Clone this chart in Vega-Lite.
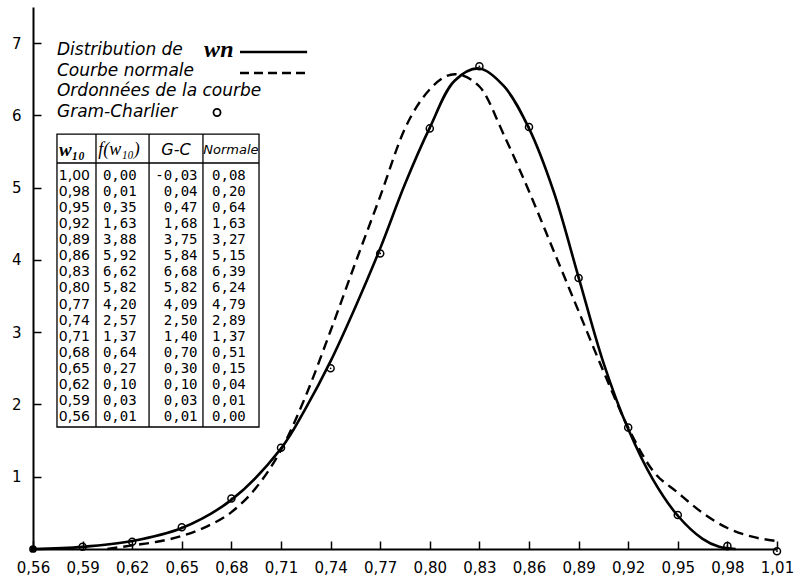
{
  "$schema": "https://vega.github.io/schema/vega-lite/v6.json",
  "width": 744,
  "height": 542,
  "autosize": "none",
  "padding": {"left": 33, "top": 7, "right": 23, "bottom": 30},
  "background": "white",
  "config": {
    "view": {"stroke": null},
    "axis": {"grid": false, "labelFont": "DejaVu Sans", "labelFontSize": 15, "labelColor": "black", "domainColor": "black", "tickColor": "black"}
  },
  "data": {"values": [{}]},
  "datasets": {
    "dist": [
      {"w": 0.56, "v": 0.0}, {"w": 0.59, "v": 0.03}, {"w": 0.62, "v": 0.11}, {"w": 0.65, "v": 0.29},
      {"w": 0.68, "v": 0.68}, {"w": 0.71, "v": 1.39}, {"w": 0.725, "v": 1.95}, {"w": 0.74, "v": 2.6},
      {"w": 0.755, "v": 3.35}, {"w": 0.77, "v": 4.16}, {"w": 0.785, "v": 5.05}, {"w": 0.80, "v": 5.83},
      {"w": 0.815, "v": 6.48}, {"w": 0.83, "v": 6.65}, {"w": 0.845, "v": 6.40}, {"w": 0.86, "v": 5.82},
      {"w": 0.875, "v": 4.94}, {"w": 0.89, "v": 3.76}, {"w": 0.905, "v": 2.58}, {"w": 0.92, "v": 1.66},
      {"w": 0.935, "v": 0.96}, {"w": 0.95, "v": 0.46}, {"w": 0.965, "v": 0.14}, {"w": 0.975, "v": 0.03},
      {"w": 0.985, "v": 0.0}
    ],
    "normal": [
      {"w": 0.605, "v": 0.0}, {"w": 0.62, "v": 0.05}, {"w": 0.635, "v": 0.1}, {"w": 0.65, "v": 0.18},
      {"w": 0.665, "v": 0.31}, {"w": 0.68, "v": 0.51}, {"w": 0.695, "v": 0.85}, {"w": 0.71, "v": 1.37},
      {"w": 0.725, "v": 2.12}, {"w": 0.74, "v": 3.02}, {"w": 0.755, "v": 3.96}, {"w": 0.77, "v": 4.88},
      {"w": 0.785, "v": 5.82}, {"w": 0.80, "v": 6.36}, {"w": 0.815, "v": 6.57}, {"w": 0.83, "v": 6.40},
      {"w": 0.845, "v": 5.72}, {"w": 0.86, "v": 4.95}, {"w": 0.875, "v": 4.12}, {"w": 0.89, "v": 3.29},
      {"w": 0.905, "v": 2.46}, {"w": 0.92, "v": 1.68}, {"w": 0.935, "v": 1.08}, {"w": 0.95, "v": 0.78},
      {"w": 0.965, "v": 0.50}, {"w": 0.98, "v": 0.29}, {"w": 0.995, "v": 0.17}, {"w": 1.01, "v": 0.11}
    ],
    "gc": [
      {"w": 0.56, "v": 0.0}, {"w": 0.59, "v": 0.03}, {"w": 0.62, "v": 0.10}, {"w": 0.65, "v": 0.30},
      {"w": 0.68, "v": 0.70}, {"w": 0.71, "v": 1.40}, {"w": 0.74, "v": 2.50}, {"w": 0.77, "v": 4.09},
      {"w": 0.80, "v": 5.82}, {"w": 0.83, "v": 6.68}, {"w": 0.86, "v": 5.84}, {"w": 0.89, "v": 3.75},
      {"w": 0.92, "v": 1.68}, {"w": 0.95, "v": 0.47}, {"w": 0.98, "v": 0.04}, {"w": 1.01, "v": -0.03}
    ],
    "table": [
      {"w": "1,00", "f": "0,00", "gc": "-0,03", "n": "0,08"},
      {"w": "0,98", "f": "0,01", "gc": "0,04", "n": "0,20"},
      {"w": "0,95", "f": "0,35", "gc": "0,47", "n": "0,64"},
      {"w": "0,92", "f": "1,63", "gc": "1,68", "n": "1,63"},
      {"w": "0,89", "f": "3,88", "gc": "3,75", "n": "3,27"},
      {"w": "0,86", "f": "5,92", "gc": "5,84", "n": "5,15"},
      {"w": "0,83", "f": "6,62", "gc": "6,68", "n": "6,39"},
      {"w": "0,80", "f": "5,82", "gc": "5,82", "n": "6,24"},
      {"w": "0,77", "f": "4,20", "gc": "4,09", "n": "4,79"},
      {"w": "0,74", "f": "2,57", "gc": "2,50", "n": "2,89"},
      {"w": "0,71", "f": "1,37", "gc": "1,40", "n": "1,37"},
      {"w": "0,68", "f": "0,64", "gc": "0,70", "n": "0,51"},
      {"w": "0,65", "f": "0,27", "gc": "0,30", "n": "0,15"},
      {"w": "0,62", "f": "0,10", "gc": "0,10", "n": "0,04"},
      {"w": "0,59", "f": "0,03", "gc": "0,03", "n": "0,01"},
      {"w": "0,56", "f": "0,01", "gc": "0,01", "n": "0,00"}
    ]
  },
  "layer": [
    {
      "data": {"name": "normal"},
      "mark": {"type": "line", "interpolate": "monotone", "color": "black", "strokeWidth": 2.4, "strokeDash": [10, 6]},
      "encoding": {
        "x": {"field": "w", "type": "quantitative", "scale": {"domain": [0.56, 1.01], "nice": false, "zero": false},
          "axis": {"title": null, "values": [0.56, 0.59, 0.62, 0.65, 0.68, 0.71, 0.74, 0.77, 0.80, 0.83, 0.86, 0.89, 0.92, 0.95, 0.98, 1.01],
            "labelExpr": "replace(format(datum.value, '.2f'), '.', ',')", "tickSize": -8, "tickWidth": 1.5, "domainWidth": 2, "labelPadding": 19, "labelFlush": false}},
        "y": {"field": "v", "type": "quantitative", "scale": {"domain": [0, 7.5], "nice": false, "zero": false},
          "axis": {"title": null, "values": [1, 2, 3, 4, 5, 6, 7], "tickSize": -8, "tickWidth": 1.5, "domainWidth": 2, "labelPadding": 20}}
      }
    },
    {
      "data": {"name": "dist"},
      "mark": {"type": "line", "interpolate": "catmull-rom", "color": "black", "strokeWidth": 2.6},
      "encoding": {
        "x": {"field": "w", "type": "quantitative"},
        "y": {"field": "v", "type": "quantitative", "scale": {"domain": [0, 7.5], "nice": false, "zero": false}, "axis": null}
      }
    },
    {
      "data": {"name": "gc"},
      "transform": [{"filter": "datum.w > 0.56"}],
      "mark": {"type": "point", "shape": "circle", "filled": false, "color": "black", "size": 50, "strokeWidth": 1.5, "opacity": 1},
      "encoding": {
        "x": {"field": "w", "type": "quantitative"},
        "y": {"field": "v", "type": "quantitative", "scale": {"domain": [0, 7.5], "nice": false, "zero": false}, "axis": null}
      }
    },
    {
      "data": {"name": "gc"},
      "transform": [{"filter": "datum.w > 0.56"}],
      "mark": {"type": "point", "shape": "circle", "filled": true, "color": "black", "size": 3, "opacity": 1},
      "encoding": {
        "x": {"field": "w", "type": "quantitative"},
        "y": {"field": "v", "type": "quantitative", "scale": {"domain": [0, 7.5], "nice": false, "zero": false}, "axis": null}
      }
    },
    {
      "data": {"name": "gc"},
      "transform": [{"filter": "datum.w == 0.56"}],
      "mark": {"type": "point", "shape": "circle", "filled": true, "color": "black", "size": 60, "opacity": 1},
      "encoding": {
        "x": {"field": "w", "type": "quantitative"},
        "y": {"field": "v", "type": "quantitative", "scale": {"domain": [0, 7.5], "nice": false, "zero": false}, "axis": null}
      }
    },
    {
      "mark": {"type": "text", "text": "Distribution de", "align": "left", "baseline": "middle", "font": "DejaVu Sans", "fontStyle": "oblique", "fontSize": 17},
      "encoding": {"x": {"datum": 0.5745, "type": "quantitative"}, "y": {"datum": 6.905, "type": "quantitative", "scale": {"domain": [0, 7.5], "nice": false, "zero": false}, "axis": null}}
    },
    {
      "mark": {"type": "text", "text": "wn", "align": "left", "baseline": "middle", "font": "Liberation Serif", "fontStyle": "italic", "fontWeight": "bold", "fontSize": 24},
      "encoding": {"x": {"datum": 0.6635, "type": "quantitative"}, "y": {"datum": 6.9, "type": "quantitative", "scale": {"domain": [0, 7.5], "nice": false, "zero": false}, "axis": null}}
    },
    {
      "mark": {"type": "text", "text": "Courbe normale", "align": "left", "baseline": "middle", "font": "DejaVu Sans", "fontStyle": "oblique", "fontSize": 17},
      "encoding": {"x": {"datum": 0.5745, "type": "quantitative"}, "y": {"datum": 6.614, "type": "quantitative", "scale": {"domain": [0, 7.5], "nice": false, "zero": false}, "axis": null}}
    },
    {
      "mark": {"type": "text", "text": "Ordonnées de la courbe", "align": "left", "baseline": "middle", "font": "DejaVu Sans", "fontStyle": "oblique", "fontSize": 17},
      "encoding": {"x": {"datum": 0.5745, "type": "quantitative"}, "y": {"datum": 6.337, "type": "quantitative", "scale": {"domain": [0, 7.5], "nice": false, "zero": false}, "axis": null}}
    },
    {
      "mark": {"type": "text", "text": "Gram-Charlier", "align": "left", "baseline": "middle", "font": "DejaVu Sans", "fontStyle": "oblique", "fontSize": 17},
      "encoding": {"x": {"datum": 0.5745, "type": "quantitative"}, "y": {"datum": 6.047, "type": "quantitative", "scale": {"domain": [0, 7.5], "nice": false, "zero": false}, "axis": null}}
    },
    {
      "mark": {"type": "rule", "color": "black", "strokeWidth": 2.6},
      "encoding": {"x": {"datum": 0.6852, "type": "quantitative"}, "x2": {"datum": 0.7258}, "y": {"datum": 6.877, "type": "quantitative", "scale": {"domain": [0, 7.5], "nice": false, "zero": false}, "axis": null}}
    },
    {
      "mark": {"type": "rule", "color": "black", "strokeWidth": 2.6, "strokeDash": [9, 5]},
      "encoding": {"x": {"datum": 0.6852, "type": "quantitative"}, "x2": {"datum": 0.7258}, "y": {"datum": 6.586, "type": "quantitative", "scale": {"domain": [0, 7.5], "nice": false, "zero": false}, "axis": null}}
    },
    {
      "mark": {"type": "point", "shape": "circle", "filled": false, "color": "black", "size": 50, "strokeWidth": 1.8, "opacity": 1},
      "encoding": {"x": {"datum": 0.6713, "type": "quantitative"}, "y": {"datum": 6.04, "type": "quantitative", "scale": {"domain": [0, 7.5], "nice": false, "zero": false}, "axis": null}}
    },
    {
      "mark": {"type": "rect", "fill": null, "fillOpacity": 0, "stroke": "black", "strokeWidth": 1.3},
      "encoding": {"x": {"datum": 0.5745, "type": "quantitative"}, "x2": {"datum": 0.6967}, "y": {"datum": 5.742, "type": "quantitative", "scale": {"domain": [0, 7.5], "nice": false, "zero": false}, "axis": null}, "y2": {"datum": 1.688}}
    },
    {
      "mark": {"type": "rule", "color": "black", "strokeWidth": 1.3},
      "encoding": {"x": {"datum": 0.5745, "type": "quantitative"}, "x2": {"datum": 0.6967}, "y": {"datum": 5.341, "type": "quantitative", "scale": {"domain": [0, 7.5], "nice": false, "zero": false}, "axis": null}}
    },
    {
      "mark": {"type": "rule", "color": "black", "strokeWidth": 1.3},
      "encoding": {"x": {"datum": 0.5981, "type": "quantitative"}, "y": {"datum": 5.742, "type": "quantitative", "scale": {"domain": [0, 7.5], "nice": false, "zero": false}, "axis": null}, "y2": {"datum": 1.688}}
    },
    {
      "mark": {"type": "rule", "color": "black", "strokeWidth": 1.3},
      "encoding": {"x": {"datum": 0.6302, "type": "quantitative"}, "y": {"datum": 5.742, "type": "quantitative", "scale": {"domain": [0, 7.5], "nice": false, "zero": false}, "axis": null}, "y2": {"datum": 1.688}}
    },
    {
      "mark": {"type": "rule", "color": "black", "strokeWidth": 1.3},
      "encoding": {"x": {"datum": 0.6628, "type": "quantitative"}, "y": {"datum": 5.742, "type": "quantitative", "scale": {"domain": [0, 7.5], "nice": false, "zero": false}, "axis": null}, "y2": {"datum": 1.688}}
    },
    {
      "mark": {"type": "text", "text": "w₁₀", "align": "left", "baseline": "middle", "font": "Liberation Serif", "fontStyle": "italic", "fontWeight": "bold", "fontSize": 19},
      "encoding": {"x": {"datum": 0.5757, "type": "quantitative"}, "y": {"datum": 5.521, "type": "quantitative", "scale": {"domain": [0, 7.5], "nice": false, "zero": false}, "axis": null}}
    },
    {
      "mark": {"type": "text", "text": "f(w₁₀)", "align": "left", "baseline": "middle", "font": "Liberation Serif", "fontStyle": "italic", "fontSize": 18},
      "encoding": {"x": {"datum": 0.5995, "type": "quantitative"}, "y": {"datum": 5.521, "type": "quantitative", "scale": {"domain": [0, 7.5], "nice": false, "zero": false}, "axis": null}}
    },
    {
      "mark": {"type": "text", "text": "G-C", "align": "center", "baseline": "middle", "font": "DejaVu Sans", "fontStyle": "oblique", "fontSize": 16},
      "encoding": {"x": {"datum": 0.6465, "type": "quantitative"}, "y": {"datum": 5.521, "type": "quantitative", "scale": {"domain": [0, 7.5], "nice": false, "zero": false}, "axis": null}}
    },
    {
      "mark": {"type": "text", "text": "Normale", "align": "center", "baseline": "middle", "font": "DejaVu Sans", "fontStyle": "oblique", "fontSize": 13},
      "encoding": {"x": {"datum": 0.6797, "type": "quantitative"}, "y": {"datum": 5.521, "type": "quantitative", "scale": {"domain": [0, 7.5], "nice": false, "zero": false}, "axis": null}}
    },
    {
      "data": {"name": "table"},
      "transform": [{"window": [{"op": "row_number", "as": "r"}]}],
      "mark": {"type": "text", "align": "left", "baseline": "middle", "font": "DejaVu Sans", "fontSize": 14},
      "encoding": {
        "x": {"datum": 0.5756, "type": "quantitative"},
        "y": {"field": "r", "type": "quantitative", "scale": {"domain": [-9.516, 24.21], "reverse": true, "nice": false, "zero": false}, "axis": null},
        "text": {"field": "w"}
      }
    },
    {
      "data": {"name": "table"},
      "transform": [{"window": [{"op": "row_number", "as": "r"}]}],
      "mark": {"type": "text", "align": "left", "baseline": "middle", "font": "DejaVu Sans Mono", "fontSize": 14},
      "encoding": {
        "x": {"datum": 0.6023, "type": "quantitative"},
        "y": {"field": "r", "type": "quantitative", "scale": {"domain": [-9.516, 24.21], "reverse": true, "nice": false, "zero": false}, "axis": null},
        "text": {"field": "f"}
      }
    },
    {
      "data": {"name": "table"},
      "transform": [{"window": [{"op": "row_number", "as": "r"}]}],
      "mark": {"type": "text", "align": "right", "baseline": "middle", "font": "DejaVu Sans Mono", "fontSize": 14},
      "encoding": {
        "x": {"datum": 0.6595, "type": "quantitative"},
        "y": {"field": "r", "type": "quantitative", "scale": {"domain": [-9.516, 24.21], "reverse": true, "nice": false, "zero": false}, "axis": null},
        "text": {"field": "gc"}
      }
    },
    {
      "data": {"name": "table"},
      "transform": [{"window": [{"op": "row_number", "as": "r"}]}],
      "mark": {"type": "text", "align": "left", "baseline": "middle", "font": "DejaVu Sans Mono", "fontSize": 14},
      "encoding": {
        "x": {"datum": 0.6683, "type": "quantitative"},
        "y": {"field": "r", "type": "quantitative", "scale": {"domain": [-9.516, 24.21], "reverse": true, "nice": false, "zero": false}, "axis": null},
        "text": {"field": "n"}
      }
    }
  ],
  "resolve": {"scale": {"y": "independent"}, "axis": {"y": "independent"}}
}
